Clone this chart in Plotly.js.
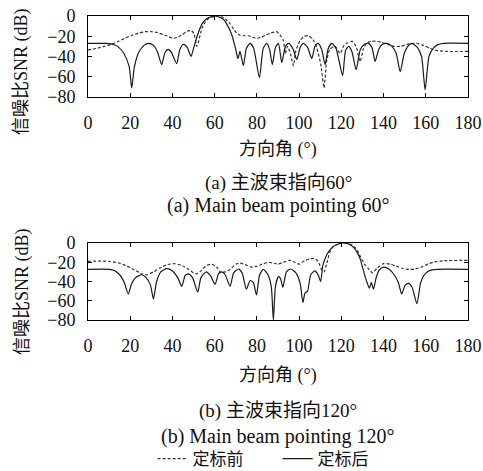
<!DOCTYPE html>
<html>
<head>
<meta charset="utf-8">
<script src="https://cdn.plot.ly/plotly-3.0.1.min.js"></script>
<style>html,body{margin:0;padding:0;background:#fff;}#chart{width:483px;height:471px;}</style>
</head>
<body>
<div id="chart"></div>
<script>
// ---- Data ----
const xTicks = [0, 20, 40, 60, 80, 100, 120, 140, 160, 180];
const yTicks = [0, -20, -40, -60, -80];

// (a) main beam 60 deg, after calibration (solid)
const a_after_x = [0,8,11,14,17,19.5,20.7,22,24,26.5,28.6,31,33,34.9,36.5,38,39.5,42,43.5,45.2,47,48.8,50,52,54,56,58,60,62,64,66,68,70,71,72,73.6,75,76.8,78.5,81.2,83,84.7,86,87.3,88.8,90.2,91.8,93.5,95,97,98.9,100.5,102,104,106,107.5,109,110.7,112.3,113.8,115.5,117.5,120.6,122,123.5,125,127,129,131,132.8,134.5,136,137.7,139.5,141.5,144,146,147.9,149.8,151.5,153.4,156,158,159.7,161.5,163.5,165.5,168.4,180];
const a_after_y = [-27,-27,-27.5,-30,-37,-50,-71,-50,-36,-29,-27,-29,-36,-48,-36,-33,-36,-47,-33,-28,-31,-40,-32,-18,-8,-3,-1,0,-1,-3,-9,-18,-33,-42,-35,-49,-32,-27,-32,-61,-32,-27,-33,-48,-31,-27,-46,-30,-27,-32,-43,-31,-27,-31,-42,-30,-27,-33,-48,-32,-27,-32,-59,-34,-30,-35,-53,-33,-28,-27,-31,-45,-33,-28,-27,-30,-37,-55,-37,-30,-27,-31,-40,-73,-40,-32,-28.5,-27,-27];

// (a) main beam 60 deg, before calibration (dashed)
const a_before_x = [0,4,7.7,11,14.4,17.5,20.7,24,27,30.2,33,36.5,40.4,42.5,44.3,47,49,50.3,51.5,52.5,54,55.5,57.5,60,61.5,63,65,67,69,70.5,72,74,76,78,80,82,84,86.5,89.4,91,92.5,93.5,94.5,96,97.3,98.5,100.5,102.5,104.4,106.5,108.4,110.3,111.8,113,114.5,117,119.5,121,122.5,125,127,128.9,130.5,132,134,136.5,139,142,145,148,151,155.7,159,162,165,170,180];
const a_before_y = [-33.5,-32,-30,-28,-25,-22,-19,-17,-15.5,-15.5,-16.5,-19,-22,-21,-19,-15,-14.5,-18,-30,-24,-12,-6,-2,-0.3,0,-0.5,-3,-7,-13,-17,-19,-19.5,-19.5,-21,-22,-21,-19,-17,-15.5,-19,-24,-37,-30,-38,-49,-34,-24,-20,-19.5,-23,-32,-48,-71,-45,-33,-30,-37,-30,-27,-25,-30,-45,-32,-27,-25,-25,-26,-28,-30,-30,-28,-27,-29,-32,-34,-35,-35];

// (b) main beam 120 deg, after calibration (solid)
const b_after_x = [0,10,12.5,15,17,19.1,20.5,22.5,25.4,27.5,29.5,31,32.5,34.5,37.3,40,42.5,44.4,46,47.5,49.5,52,53.5,56,58,60.2,61.8,63.4,65,67.3,69,71.2,73,75,76.8,78.3,79.8,81.3,83,85,86.8,87.8,88.8,90.2,91.2,92.3,94,96,98.5,100.5,101.8,102.8,104,105.5,107.4,109,110.2,111.2,112.5,114,116,118,120.5,123,125,127.3,129,130.5,132,133.3,134.2,135.2,136.5,138,140,142.5,145,147,148.6,150.2,151.8,153.5,155.8,157.5,159,161,163,165.5,180];
const b_after_y = [-27.3,-27.3,-28.5,-33,-40,-53,-43,-36,-33,-36,-43,-58,-40,-30,-26.7,-29,-36,-45,-34,-32,-36,-51,-36,-30,-34,-43,-32,-30,-33,-45,-31,-27,-31,-48,-39,-41,-54,-33,-27.5,-32,-45,-80,-45,-35,-37,-46,-30,-27,-31,-42,-62,-52,-50,-33,-29,-33,-40,-24,-15,-9,-4,-1.5,0,-0.7,-3,-9,-17,-29,-40,-47,-41,-48,-36,-28,-25,-27,-33,-41,-53,-44,-42,-46,-63,-42,-34,-29.5,-28,-27.3,-27.3];

// (b) main beam 120 deg, before calibration (dashed)
const b_before_x = [0,10,14,18,22,26,28,31,34,37.5,41,44,47.5,50,51.5,53.5,56,58.5,61,63,65,67.3,70,72,74.5,77.5,80,82.5,85.5,88,90,92.5,95.5,98,100,102.5,105,107,109,110.7,111.8,113,114.5,116,118,120.5,123,125,127,129,131,133,134.8,137,140,143,146,149,152,155,158,161,164,168,180];
const b_before_y = [-19,-19,-20.5,-23.5,-28,-32.5,-33,-30,-26,-22.5,-21.5,-23,-27,-31,-32,-29,-23.5,-22,-25,-31,-30,-27.5,-22,-21,-22.5,-25,-24,-22,-20,-21,-22,-20,-18,-20,-22,-18.5,-16.5,-16,-19,-28,-30,-22,-10,-4,-1.5,0,-0.5,-2,-6,-14,-22,-27,-31,-26,-21.5,-22,-24,-26.5,-27.5,-27,-25,-22,-19.7,-18.5,-18];

const nameBefore = '定标前';
const nameAfter = '定标后';

// ---- Styling ----
const FONT = 'Liberation Serif, "Noto Sans CJK SC", serif';
const solid = {color: '#1a1a1a', width: 1.2, shape: 'spline', smoothing: 0.6};
const dashed = {color: '#333333', width: 1.2, dash: '3px,2px', shape: 'spline', smoothing: 0.6};

const traces = [
  {x: a_before_x, y: a_before_y, xaxis: 'x', yaxis: 'y', mode: 'lines', line: dashed, name: nameBefore, showlegend: false},
  {x: a_after_x, y: a_after_y, xaxis: 'x', yaxis: 'y', mode: 'lines', line: solid, name: nameAfter, showlegend: false},
  {x: b_before_x, y: b_before_y, xaxis: 'x2', yaxis: 'y2', mode: 'lines', line: dashed, name: nameBefore, showlegend: true},
  {x: b_after_x, y: b_after_y, xaxis: 'x2', yaxis: 'y2', mode: 'lines', line: solid, name: nameAfter, showlegend: true}
];

const H = 471;
function py(px) { return 1 - px / H; }

const xBase = {
  range: [0, 180], tickvals: xTicks, ticktext: xTicks.map(String),
  ticks: 'inside', ticklen: 4, tickcolor: '#000', tickwidth: 1,
  showline: true, linecolor: '#000', linewidth: 1, mirror: 'ticks',
  showgrid: false, zeroline: false, fixedrange: true,
  tickfont: {family: FONT, size: 18, color: '#111'}, ticklabelstandoff: 9
};
const yBase = {
  range: [-80, 0], tickvals: yTicks, ticktext: yTicks.map(v => v === 0 ? '0' : '\u2212' + Math.abs(v)),
  ticks: 'inside', ticklen: 4, tickcolor: '#000', tickwidth: 1,
  showline: true, linecolor: '#000', linewidth: 1, mirror: 'ticks',
  showgrid: false, zeroline: false, fixedrange: true,
  tickfont: {family: FONT, size: 18, color: '#111'}, ticklabelstandoff: 8
};

const ytitle = '信噪比SNR (dB)';
const xtitle = '方向角 (°)';
const txt = {family: FONT, size: 18, color: '#111'};
const capZh = {family: FONT, size: 19, color: '#111'};
const capEn = {family: FONT, size: 20, color: '#111'};

const layout = {
  width: 483, height: 471,
  margin: {l: 88, r: 15, t: 0, b: 0, autoexpand: false},
  paper_bgcolor: '#fff', plot_bgcolor: '#fff',
  font: txt,
  xaxis: Object.assign({}, xBase, {domain: [0, 1], anchor: 'y'}),
  yaxis: Object.assign({}, yBase, {domain: [py(97), py(16)], anchor: 'x'}),
  xaxis2: Object.assign({}, xBase, {domain: [0, 1], anchor: 'y2'}),
  yaxis2: Object.assign({}, yBase, {domain: [py(320), py(243)], anchor: 'x2'}),
  showlegend: true,
  legend: {
    orientation: 'h', x: 0.17, xanchor: 'left', y: py(459), yanchor: 'middle',
    font: {family: FONT, size: 17, color: '#111'}, itemwidth: 30, entrywidth: 80, entrywidthmode: 'pixels',
    bgcolor: 'rgba(0,0,0,0)', borderwidth: 0
  },
  annotations: [
    {text: ytitle, xref: 'paper', yref: 'paper', x: (22 - 88) / 380, y: py(72), textangle: -90, showarrow: false, font: txt, xanchor: 'center', yanchor: 'middle'},
    {text: xtitle, xref: 'paper', yref: 'paper', x: 0.5, y: py(150), showarrow: false, font: txt, xanchor: 'center', yanchor: 'middle'},
    {text: '(a) 主波束指向60°', xref: 'paper', yref: 'paper', x: 0.5, y: py(183), showarrow: false, font: capZh, xanchor: 'center', yanchor: 'middle'},
    {text: '(a) Main beam pointing 60°', xref: 'paper', yref: 'paper', x: 0.5, y: py(205), showarrow: false, font: capEn, xanchor: 'center', yanchor: 'middle'},
    {text: ytitle, xref: 'paper', yref: 'paper', x: (22 - 88) / 380, y: py(292), textangle: -90, showarrow: false, font: txt, xanchor: 'center', yanchor: 'middle'},
    {text: xtitle, xref: 'paper', yref: 'paper', x: 0.5, y: py(375), showarrow: false, font: txt, xanchor: 'center', yanchor: 'middle'},
    {text: '(b) 主波束指向120°', xref: 'paper', yref: 'paper', x: 0.5, y: py(411), showarrow: false, font: capZh, xanchor: 'center', yanchor: 'middle'},
    {text: '(b) Main beam pointing 120°', xref: 'paper', yref: 'paper', x: 0.5, y: py(436), showarrow: false, font: capEn, xanchor: 'center', yanchor: 'middle'}
  ]
};

Plotly.newPlot('chart', traces, layout, {staticPlot: true, displayModeBar: false});
</script>
</body>
</html>
